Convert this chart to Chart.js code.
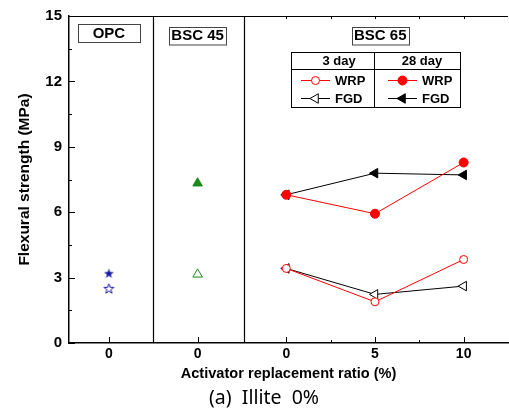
<!DOCTYPE html>
<html>
<head>
<meta charset="utf-8">
<script src="https://cdn.jsdelivr.net/npm/chart.js@4/dist/chart.umd.min.js"></script>
<style>
  html, body { margin: 0; padding: 0; background: #fff; }
  #wrap { width: 509px; height: 414px; }
</style>
</head>
<body>
<div id="wrap"><canvas id="chart" width="509" height="414"></canvas></div>
<script>
// x positions: OPC, BSC 45, then BSC 65 at 0 / 5 / 10 %
let xPos = [0, 1, 2, 3, 4];
let xLabels = ['0', '0', '0', '5', '10'];
let groupNames = ['OPC', 'BSC 45', 'BSC 65'];

// flexural strength (MPa)
let opc3 = [2.5];
let opc28 = [3.2];
let bsc45_3 = [3.15];
let bsc45_28 = [7.33];
let ratio = [0, 5, 10];
let wrp3 = [3.42, 1.89, 3.83];
let fgd3 = [3.42, 2.23, 2.61];
let wrp28 = [6.8, 5.93, 8.28];
let fgd28 = [6.8, 7.79, 7.71];

let yTicks = [0, 3, 6, 9, 12, 15];

function ratioToX(r) {
  return 2 + r / 5;
}

function makeStar(color, filled) {
  let c = document.createElement('canvas');
  c.width = 13; c.height = 13;
  let g = c.getContext('2d');
  let cx = 6.5, cy = 7, R = 5.2, r = 2.1;
  g.beginPath();
  for (let i = 0; i < 10; i++) {
    let a = -Math.PI / 2 + i * Math.PI / 5;
    let rad = i % 2 === 0 ? R : r;
    let px = cx + rad * Math.cos(a), py = cy + rad * Math.sin(a);
    if (i === 0) g.moveTo(px, py); else g.lineTo(px, py);
  }
  g.closePath();
  if (filled) {
    g.fillStyle = color;
    g.fill();
  } else {
    g.strokeStyle = color;
    g.lineWidth = 1;
    g.stroke();
  }
  return c;
}

const BLUE = '#1a1aa6';
const GREEN = '#1a8a1a';
const RED = '#ff0000';

let starFilled = makeStar(BLUE, true);
let starOpen = makeStar(BLUE, false);

function series(vals) {
  return vals.map((v, i) => ({ x: ratioToX(ratio[i]), y: v }));
}

let datasets = [
  {
    label: 'WRP 3 day', data: series(wrp3), showLine: true,
    borderColor: RED, borderWidth: 1, pointStyle: 'circle', pointRadius: 4,
    pointBackgroundColor: '#fff', pointBorderColor: RED, pointBorderWidth: 1
  },
  {
    label: 'FGD 3 day', data: series(fgd3), showLine: true,
    borderColor: '#000', borderWidth: 1, pointStyle: 'triangle', pointRotation: -90, pointRadius: 5.5,
    pointBackgroundColor: '#fff', pointBorderColor: '#000', pointBorderWidth: 1
  },
  {
    label: 'WRP 28 day', data: series(wrp28), showLine: true,
    borderColor: RED, borderWidth: 1, pointStyle: 'circle', pointRadius: 4.5,
    pointBackgroundColor: RED, pointBorderColor: RED, pointBorderWidth: 1
  },
  {
    label: 'FGD 28 day', data: series(fgd28), showLine: true,
    borderColor: '#000', borderWidth: 1, pointStyle: 'triangle', pointRotation: -90, pointRadius: 5.5,
    pointBackgroundColor: '#000', pointBorderColor: '#000', pointBorderWidth: 1
  },
  {
    label: 'OPC 3 day', data: opc3.map(v => ({ x: xPos[0], y: v })),
    pointStyle: starOpen, showLine: false
  },
  {
    label: 'OPC 28 day', data: opc28.map(v => ({ x: xPos[0], y: v })),
    pointStyle: starFilled, showLine: false
  },
  {
    label: 'BSC 45 3 day', data: bsc45_3.map(v => ({ x: xPos[1], y: v })), showLine: false,
    pointStyle: 'triangle', pointRadius: 5.5,
    pointBackgroundColor: '#fff', pointBorderColor: GREEN, pointBorderWidth: 1
  },
  {
    label: 'BSC 45 28 day', data: bsc45_28.map(v => ({ x: xPos[1], y: v })), showLine: false,
    pointStyle: 'triangle', pointRadius: 5.5,
    pointBackgroundColor: GREEN, pointBorderColor: GREEN, pointBorderWidth: 1
  }
];

// frame, inward ticks, group dividers and group labels
let framePlugin = {
  id: 'frame',
  beforeDatasetsDraw(chart) {
    let ctx = chart.ctx;
    let a = chart.chartArea;
    let xs = chart.scales.x, ys = chart.scales.y;
    ctx.save();
    ctx.strokeStyle = '#000';

    // top line
    ctx.lineWidth = 1;
    ctx.beginPath();
    ctx.moveTo(a.left, a.top + 0.5);
    ctx.lineTo(a.right, a.top + 0.5);
    ctx.stroke();

    // group dividers
    ctx.lineWidth = 1.2;
    [0.5, 1.52].forEach(v => {
      let px = Math.round(xs.getPixelForValue(v)) + 0.5;
      ctx.beginPath();
      ctx.moveTo(px, a.top);
      ctx.lineTo(px, a.bottom);
      ctx.stroke();
    });

    // y ticks (inward)
    ctx.lineWidth = 1;
    for (let v = 0; v <= 15; v += 1.5) {
      let py = Math.round(ys.getPixelForValue(v)) + 0.5;
      let len = (v % 3 === 0) ? 6 : 3;
      ctx.beginPath();
      ctx.moveTo(a.left, py);
      ctx.lineTo(a.left + len, py);
      ctx.stroke();
    }

    // x ticks (inward)
    xPos.forEach(v => {
      let px = Math.round(xs.getPixelForValue(v)) + 0.5;
      ctx.beginPath();
      ctx.moveTo(px, a.bottom);
      ctx.lineTo(px, a.bottom - 6);
      ctx.stroke();
    });
    [2.5, 3.5].forEach(v => {
      let px = Math.round(xs.getPixelForValue(v)) + 0.5;
      ctx.beginPath();
      ctx.moveTo(px, a.bottom);
      ctx.lineTo(px, a.bottom - 3);
      ctx.stroke();
    });
    [2, 2.5, 3, 3.5, 4].forEach(v => {
      let px = Math.round(xs.getPixelForValue(v)) + 0.5;
      ctx.beginPath();
      ctx.moveTo(px, a.top);
      ctx.lineTo(px, a.top + 3);
      ctx.stroke();
    });

    // group label boxes
    let boxes = [
      { cx: xs.getPixelForValue(0), y: 24, w: 62, h: 18 },
      { cx: xs.getPixelForValue(1), y: 26.5, w: 57, h: 17.5 },
      { cx: xs.getPixelForValue(3.06), y: 26.5, w: 57, h: 17.5 }
    ];
    ctx.font = 'bold 15px "Liberation Sans", Arial, sans-serif';
    ctx.textAlign = 'center';
    ctx.textBaseline = 'middle';
    boxes.forEach((b, i) => {
      ctx.strokeStyle = '#444';
      ctx.lineWidth = 1;
      ctx.strokeRect(Math.round(b.cx - b.w / 2) + 0.5, Math.round(b.y) + 0.5, b.w, b.h);
      ctx.fillStyle = '#000';
      ctx.fillText(groupNames[i], b.cx, b.y + b.h / 2 + 1);
    });
    ctx.restore();
  },
  afterDraw(chart) {
    let ctx = chart.ctx;
    ctx.save();
    // legend table
    let L = 291.5, R = 460.5, T = 52.5, B = 107.5, mid = 374.5, hdr = 69.5;
    ctx.strokeStyle = '#000';
    ctx.lineWidth = 1;
    ctx.strokeRect(L, T, R - L, B - T);
    ctx.beginPath();
    ctx.moveTo(L, hdr); ctx.lineTo(R, hdr);
    ctx.moveTo(mid, T); ctx.lineTo(mid, B);
    ctx.stroke();

    ctx.font = 'bold 13px "Liberation Sans", Arial, sans-serif';
    ctx.fillStyle = '#000';
    ctx.textBaseline = 'middle';
    ctx.textAlign = 'center';
    ctx.fillText('3 day', 339, 61);
    ctx.fillText('28 day', 422, 61);

    let rows = [
      { x0: 301, label: 'WRP', y: 80.5, ds: 0 },
      { x0: 301, label: 'FGD', y: 98.5, ds: 1 },
      { x0: 388, label: 'WRP', y: 80.5, ds: 2 },
      { x0: 388, label: 'FGD', y: 98.5, ds: 3 }
    ];
    rows.forEach(r => {
      let d = chart.data.datasets[r.ds];
      ctx.strokeStyle = d.borderColor;
      ctx.lineWidth = 1;
      ctx.beginPath();
      ctx.moveTo(r.x0, r.y);
      ctx.lineTo(r.x0 + 29, r.y);
      ctx.stroke();
      ctx.fillStyle = d.pointBackgroundColor;
      ctx.strokeStyle = d.pointBorderColor;
      Chart.helpers.drawPoint(ctx, {
        pointStyle: d.pointStyle, rotation: d.pointRotation || 0,
        radius: d.pointRadius, borderWidth: 1
      }, r.x0 + 14.5, r.y);
      ctx.fillStyle = '#000';
      ctx.textAlign = 'left';
      ctx.fillText(r.label, r.x0 + 34, r.y + 0.5);
    });

    // caption
    ctx.font = '19.5px "Noto Sans", "Open Sans", sans-serif';
    ctx.textAlign = 'center';
    ctx.fillStyle = '#000';
    ctx.fillText('(a)  Illite  0%', 264, 398);
    ctx.restore();
  }
};

new Chart(document.getElementById('chart'), {
  type: 'scatter',
  data: { datasets: datasets },
  options: {
    responsive: false,
    animation: false,
    layout: { autoPadding: false, padding: { top: 15, right: 1, bottom: 0, left: 0 } },
    plugins: { legend: { display: false }, tooltip: { enabled: false } },
    scales: {
      x: {
        type: 'linear', min: -0.45, max: 4.5,
        afterFit: s => { s.height = 71; s.paddingLeft = 0; s.paddingRight = 0; },
        afterBuildTicks: s => { s.ticks = xPos.map(v => ({ value: v })); },
        grid: { display: false, drawTicks: false },
        border: { display: true, color: '#000', width: 1.5 },
        ticks: {
          padding: 3, color: '#000',
          font: { family: '"Liberation Sans", Arial, sans-serif', size: 14, weight: 'bold' },
          callback: v => xLabels[v]
        },
        title: {
          display: true, text: 'Activator replacement ratio (%)', color: '#000',
          font: { family: '"Liberation Sans", Arial, sans-serif', size: 14.6, weight: 'bold' },
          padding: { top: 0, bottom: 31.2 }
        }
      },
      y: {
        min: 0, max: 15,
        afterFit: s => { s.width = 69; },
        afterBuildTicks: s => { s.ticks = yTicks.map(v => ({ value: v })); },
        grid: { display: false, drawTicks: false },
        border: { display: true, color: '#000', width: 1.5 },
        ticks: {
          padding: 7, color: '#000',
          font: { family: '"Liberation Sans", Arial, sans-serif', size: 15, weight: 'bold' }
        },
        title: {
          display: true, text: 'Flexural strength (MPa)', color: '#000',
          font: { family: '"Liberation Sans", Arial, sans-serif', size: 15.5, weight: 'bold' },
          padding: { top: 15.5, bottom: 0 }
        }
      }
    }
  },
  plugins: [framePlugin]
});
</script>
</body>
</html>
